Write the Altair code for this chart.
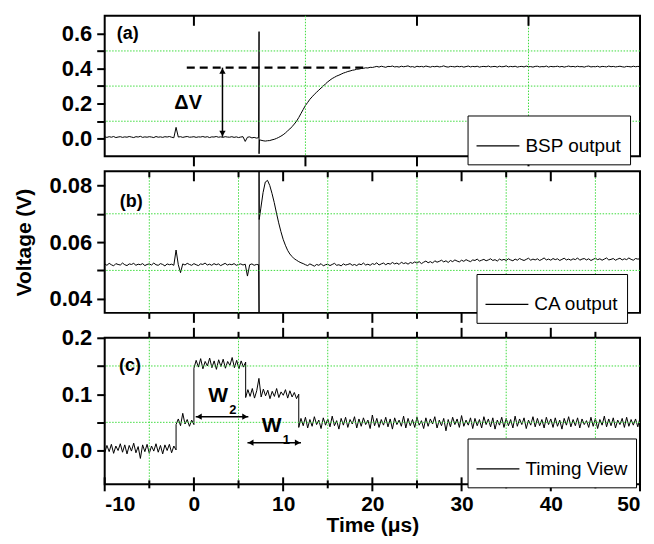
import altair as alt
import numpy as np
import pandas as pd

FONT = "Liberation Sans"

# ---------------- data: (a) BSP output ----------------
a_base_t = (-10.0, 7.25)
a_base_v = [0.011, 0.008, 0.012, 0.009, 0.013, 0.007, 0.010, 0.012, 0.008, 0.011,
            0.009, 0.013, 0.010, 0.007, 0.012, 0.010, 0.014, 0.008, 0.011, 0.009,
            0.012, 0.010, 0.007, 0.013, 0.009, 0.011, 0.008, 0.012, 0.010, 0.013,
            0.009, 0.006, 0.065, 0.010, 0.012, 0.008, 0.011, 0.013, 0.009, 0.010,
            0.012, 0.008, 0.011, 0.010, 0.013, 0.009, 0.012, 0.007, 0.011, 0.010,
            0.013, 0.009, 0.011, 0.008, 0.012, 0.010, 0.009, 0.012, 0.008, 0.011,
            0.007, 0.010, 0.012, -0.015, 0.009, 0.011, 0.005, 0.008, 0.004, 0.006]
a_spike_t = [7.3, 7.3, 7.35]
a_spike_v = [0.61, -0.085, -0.006]
a_rise_t = (7.5, 20.0)
a_rise_v = [-0.008, -0.011, -0.013, -0.011, -0.010, -0.006, -0.003, 0.002, 0.008, 0.015,
            0.023, 0.033, 0.045, 0.056, 0.069, 0.084, 0.100, 0.121, 0.144, 0.167,
            0.190, 0.207, 0.225, 0.239, 0.253, 0.265, 0.277, 0.289, 0.300, 0.313,
            0.324, 0.334, 0.343, 0.350, 0.357, 0.362, 0.368, 0.374, 0.378, 0.383,
            0.386, 0.390, 0.392, 0.396, 0.397, 0.400, 0.401, 0.404, 0.403, 0.407,
            0.406]
a_plat_t = (20.25, 50.0)
a_plat_v = [0.409, 0.412, 0.408, 0.413, 0.410, 0.407, 0.412, 0.411, 0.414, 0.409,
            0.411, 0.408, 0.413, 0.410, 0.412, 0.415, 0.409, 0.411, 0.407, 0.413,
            0.410, 0.412, 0.409, 0.414, 0.411, 0.408, 0.412, 0.410, 0.413, 0.409,
            0.411, 0.415, 0.410, 0.408, 0.412, 0.411, 0.409, 0.413, 0.410, 0.412,
            0.408, 0.411, 0.414, 0.409, 0.412, 0.410, 0.413, 0.408, 0.411, 0.412,
            0.410, 0.414, 0.409, 0.411, 0.412, 0.408, 0.413, 0.410, 0.411, 0.415,
            0.409, 0.412, 0.410, 0.413, 0.408, 0.411, 0.412, 0.409, 0.414, 0.410,
            0.411, 0.408, 0.412, 0.413, 0.409, 0.411, 0.410, 0.414, 0.408, 0.412,
            0.410, 0.411, 0.413, 0.409, 0.412, 0.408, 0.411, 0.414, 0.410, 0.412,
            0.409, 0.413, 0.410, 0.411, 0.408, 0.412, 0.414, 0.409, 0.411, 0.410,
            0.413, 0.408, 0.412, 0.411, 0.409, 0.414, 0.410, 0.412, 0.409, 0.411,
            0.413, 0.410, 0.408, 0.412, 0.411, 0.409, 0.413, 0.410, 0.412, 0.411]

# ---------------- data: (b) CA output ----------------
b_base_t = (-10.0, 7.25)
b_base_v = [0.0523, 0.0518, 0.0525, 0.0520, 0.0516, 0.0524, 0.0521, 0.0519, 0.0526, 0.0520,
            0.0517, 0.0523, 0.0521, 0.0525, 0.0518, 0.0522, 0.0520, 0.0524, 0.0517, 0.0521,
            0.0523, 0.0519, 0.0526, 0.0520, 0.0518, 0.0524, 0.0521, 0.0516, 0.0523, 0.0520,
            0.0522, 0.0518, 0.0572, 0.0520, 0.0492, 0.0523, 0.0519, 0.0525, 0.0521, 0.0518,
            0.0524, 0.0520, 0.0517, 0.0523, 0.0521, 0.0526, 0.0519, 0.0522, 0.0518, 0.0524,
            0.0520, 0.0523, 0.0517, 0.0521, 0.0525, 0.0519, 0.0522, 0.0520, 0.0524, 0.0518,
            0.0521, 0.0523, 0.0519, 0.0522, 0.0480, 0.0520, 0.0523, 0.0518, 0.0521, 0.0520]
b_spike_t = [7.3, 7.3, 7.32]
b_spike_v = [0.035, 0.085, 0.068]
b_pulse_t = (7.5, 12.25)
b_pulse_v = [0.0720, 0.0775, 0.0812, 0.0818, 0.0800, 0.0772, 0.0740, 0.0703, 0.0668, 0.0637,
             0.0610, 0.0589, 0.0571, 0.0558, 0.0549, 0.0541, 0.0536, 0.0531, 0.0527, 0.0524]
b_tail_t = (12.5, 50.0)
b_tail_v = [0.0520, 0.0517, 0.0523, 0.0519, 0.0515, 0.0521, 0.0518, 0.0524, 0.0516, 0.0520,
            0.0522, 0.0517, 0.0521, 0.0525, 0.0518, 0.0520, 0.0516, 0.0523, 0.0519, 0.0521,
            0.0524, 0.0518, 0.0521, 0.0517, 0.0523, 0.0520, 0.0526, 0.0519, 0.0522, 0.0518,
            0.0524, 0.0521, 0.0527, 0.0519, 0.0523, 0.0526, 0.0520, 0.0525, 0.0522, 0.0528,
            0.0523, 0.0526, 0.0521, 0.0529, 0.0524, 0.0527, 0.0522, 0.0528, 0.0525, 0.0530,
            0.0526, 0.0531, 0.0524, 0.0529, 0.0533, 0.0527, 0.0531, 0.0526, 0.0534, 0.0529,
            0.0532, 0.0536, 0.0530, 0.0534, 0.0528, 0.0535, 0.0531, 0.0537, 0.0533, 0.0530,
            0.0536, 0.0532, 0.0538, 0.0534, 0.0531, 0.0537, 0.0535, 0.0540, 0.0533, 0.0536,
            0.0539, 0.0534, 0.0537, 0.0541, 0.0535, 0.0538, 0.0533, 0.0540, 0.0536, 0.0539,
            0.0535, 0.0541, 0.0537, 0.0534, 0.0540, 0.0536, 0.0542, 0.0538, 0.0535, 0.0539,
            0.0543, 0.0536, 0.0540, 0.0537, 0.0541, 0.0535, 0.0539, 0.0544, 0.0537, 0.0540,
            0.0536, 0.0542, 0.0538, 0.0541, 0.0535, 0.0539, 0.0543, 0.0537, 0.0540, 0.0536,
            0.0541, 0.0538, 0.0544, 0.0536, 0.0540, 0.0542, 0.0537, 0.0541, 0.0535, 0.0539,
            0.0543, 0.0538, 0.0541, 0.0536, 0.0540, 0.0544, 0.0537, 0.0539, 0.0542, 0.0536,
            0.0540, 0.0543, 0.0537, 0.0541, 0.0538, 0.0544, 0.0539, 0.0536, 0.0542, 0.0540,
            0.0541]

# ---------------- data: (c) Timing View ----------------
c_s1_t = (-10.0, -2.0)
c_s1_v = [-0.004, 0.009, -0.002, 0.011, -0.005, 0.008, 0.000, 0.012, -0.003, 0.010,
          -0.006, 0.009, -0.001, 0.013, -0.004, 0.007, -0.014, 0.010, -0.002, 0.011,
          -0.005, 0.008, -0.001, 0.012, -0.003, 0.009, -0.006, 0.010, 0.000, 0.011,
          -0.004, 0.008, 0.001]
c_s2_t = (-2.0, 0.0)
c_s2_v = [0.046, 0.056, 0.044, 0.066, 0.047, 0.055, 0.043, 0.054, 0.046]
c_s3_t = (0.0, 5.8)
c_s3_v = [0.146, 0.160, 0.148, 0.163, 0.145, 0.158, 0.150, 0.164, 0.147, 0.159,
          0.144, 0.161, 0.149, 0.162, 0.146, 0.158, 0.151, 0.165, 0.147, 0.160,
          0.145, 0.159, 0.148, 0.157]
c_s4_t = (5.8, 11.75)
c_s4_v = [0.094, 0.108, 0.096, 0.110, 0.093, 0.106, 0.128, 0.095, 0.109, 0.097,
          0.107, 0.092, 0.105, 0.096, 0.110, 0.094, 0.104, 0.098, 0.108, 0.093,
          0.106, 0.095, 0.103, 0.092, 0.100]
c_s5_t = (11.75, 50.0)
c_s5_v = [0.041, 0.057, 0.044, 0.059, 0.040, 0.055, 0.043, 0.060, 0.046, 0.054,
          0.039, 0.058, 0.045, 0.056, 0.042, 0.061, 0.044, 0.053, 0.038, 0.057,
          0.045, 0.059, 0.041, 0.055, 0.047, 0.060, 0.040, 0.056, 0.043, 0.058,
          0.046, 0.054, 0.039, 0.063, 0.044, 0.057, 0.041, 0.055, 0.045, 0.059,
          0.042, 0.056, 0.038, 0.058, 0.046, 0.054, 0.043, 0.061, 0.040, 0.057,
          0.044, 0.055, 0.041, 0.059, 0.045, 0.053, 0.039, 0.058, 0.043, 0.056,
          0.047, 0.060, 0.040, 0.054, 0.044, 0.057, 0.035, 0.055, 0.042, 0.059,
          0.046, 0.056, 0.041, 0.062, 0.043, 0.054, 0.045, 0.058, 0.039, 0.057,
          0.044, 0.055, 0.040, 0.060, 0.046, 0.056, 0.042, 0.058, 0.038, 0.054,
          0.045, 0.059, 0.041, 0.057, 0.044, 0.055, 0.040, 0.061, 0.043, 0.056,
          0.046, 0.058, 0.039, 0.054, 0.045, 0.060, 0.042, 0.057, 0.044, 0.055,
          0.040, 0.059, 0.046, 0.056, 0.041, 0.058, 0.043, 0.054, 0.038, 0.057,
          0.045, 0.060, 0.042, 0.055, 0.044, 0.058, 0.040, 0.056, 0.046, 0.053,
          0.041, 0.059, 0.043, 0.057, 0.039, 0.055, 0.045, 0.061, 0.042, 0.056,
          0.044, 0.058, 0.040, 0.054, 0.046, 0.057, 0.041, 0.059, 0.043, 0.055,
          0.045, 0.056, 0.042, 0.058]

# axis / grid / tick positions
x_domain = [-10, 50]
x_labels = [-10, 0, 10, 20, 30, 40, 50]
a_ydom = [-0.1, 0.7]
a_yticks = [0.0, 0.1, 0.2, 0.3, 0.4, 0.5, 0.6]
a_grid_x = [12.5, 37.5]
a_grid_y = [0.1, 0.3, 0.5]
a_top_ticks = [0, 25, 37.5]
a_bot_ticks = [0, 12.5, 25, 37.5]
b_ydom = [0.035, 0.085]
b_yticks = [0.04, 0.05, 0.06, 0.07, 0.08]
b_grid_y = [0.05, 0.07]
c_ydom = [-0.06, 0.2]
c_yticks = [0.0, 0.05, 0.1, 0.15, 0.2]
c_grid_y = [0.05, 0.15]
major_x = [0, 10, 20, 30, 40]
minor_x = [-5, 5, 15, 25, 35, 45]

# annotations
dash_x = [-0.8, 19.4]
dash_y = 0.405
dv_arrow_x = 3.2
dv_arrow_y = [0.011, 0.405]
w2_arrow_x = [0.2, 6.1]
w2_arrow_y = 0.060
w1_arrow_x = [6.0, 12.0]
w1_arrow_y = 0.014

W = 537
HA, HB, HC = 141, 142, 147
GREEN = "#3fdc3f"


def seg(rng, vals):
    return list(np.linspace(rng[0], rng[1], len(vals)))


def trace_df(parts, name):
    t, v = [], []
    for tt, vv in parts:
        t += list(tt)
        v += list(vv)
    return pd.DataFrame({"t": t, "v": v, "i": range(len(t)), "series": name})


dfa = trace_df([(seg(a_base_t, a_base_v), a_base_v), (a_spike_t, a_spike_v),
                (seg(a_rise_t, a_rise_v), a_rise_v), (seg(a_plat_t, a_plat_v), a_plat_v)],
               "BSP output")
dfb = trace_df([(seg(b_base_t, b_base_v), b_base_v), (b_spike_t, b_spike_v),
                (seg(b_pulse_t, b_pulse_v), b_pulse_v), (seg(b_tail_t, b_tail_v), b_tail_v)],
               "CA output")
dfc = trace_df([(seg(c_s1_t, c_s1_v), c_s1_v), (seg(c_s2_t, c_s2_v), c_s2_v),
                (seg(c_s3_t, c_s3_v), c_s3_v), (seg(c_s4_t, c_s4_v), c_s4_v),
                (seg(c_s5_t, c_s5_v), c_s5_v)], "Timing View")


def xsc():
    return alt.Scale(domain=x_domain, nice=False, zero=False)


def ysc(d):
    return alt.Scale(domain=d, nice=False, zero=False)


def yaxis(vals, expr, title=None):
    kw = dict(values=vals, labelExpr=expr, tickSize=8, tickWidth=2, tickColor="black",
              labelPadding=5, labelFont=FONT, labelFontSize=22, labelFontWeight="bold",
              labelColor="black", domain=False, grid=False)
    if title:
        kw.update(title=title, titleFont=FONT, titleFontSize=21, titleFontWeight="bold",
                  titleColor="black", titlePadding=15)
    else:
        kw.update(title=None)
    return alt.Axis(**kw)


class Panel:
    """Shared scales/axes of one panel, so every layer carries the same axis spec."""

    def __init__(self, ydom, yax, xax):
        self.ydom = ydom
        self.yax = yax
        self.xax = xax

    def X(self, f):
        return alt.X(f, scale=xsc(), axis=self.xax)

    def Y(self, f):
        return alt.Y(f, scale=ysc(self.ydom), axis=self.yax)

    def vgrid(self, xs):
        return alt.Chart(pd.DataFrame({"t": xs})).mark_rule(
            color=GREEN, strokeWidth=1, strokeDash=[1.5, 1.5]).encode(x=self.X("t:Q"))

    def hgrid(self, ys):
        return alt.Chart(pd.DataFrame({"v": ys})).mark_rule(
            color=GREEN, strokeWidth=1, strokeDash=[1.5, 1.5]).encode(y=self.Y("v:Q"))

    def ticks(self, xs, y0, y1):
        return alt.Chart(pd.DataFrame({"t": xs})).mark_rule(
            color="black", strokeWidth=2).encode(
            x=self.X("t:Q"), y=alt.value(y0), y2=alt.value(y1))

    def trace(self, df, lx, ly):
        lg = alt.Legend(orient="none", legendX=lx, legendY=ly, title=None,
                        strokeColor="black", fillColor="white", padding=8,
                        symbolType="stroke", symbolSize=1850, symbolStrokeWidth=1.2,
                        labelFont=FONT, labelFontSize=19, labelColor="black",
                        labelOffset=5)
        return alt.Chart(df).mark_line(strokeWidth=1, clip=True).encode(
            x=self.X("t:Q"), y=self.Y("v:Q"), order="i:Q",
            color=alt.Color("series:N", scale=alt.Scale(range=["black"]), legend=lg))

    def label(self, txt, x, y, size=18, align="left"):
        return alt.Chart(pd.DataFrame({"t": [x], "v": [y], "s": [txt]})).mark_text(
            font=FONT, fontSize=size, fontWeight="bold", align=align, baseline="middle",
            color="black").encode(x=self.X("t:Q"), y=self.Y("v:Q"), text="s:N")

    def head(self, x, y, shape):
        return alt.Chart(pd.DataFrame({"t": [x], "v": [y]})).mark_point(
            shape=shape, filled=True, size=40, color="black", opacity=1).encode(
            x=self.X("t:Q"), y=self.Y("v:Q"))

    def hline(self, xs, y, width=1.5, dash=None):
        kw = dict(color="black", strokeWidth=width)
        if dash:
            kw["strokeDash"] = dash
        return alt.Chart(pd.DataFrame({"t": [xs[0]], "t2": [xs[1]], "v": [y]})).mark_rule(**kw).encode(
            x=self.X("t:Q"), x2="t2:Q", y=self.Y("v:Q"))

    def vline(self, x, ys, width=1.5):
        return alt.Chart(pd.DataFrame({"t": [x], "v": [ys[0]], "v2": [ys[1]]})).mark_rule(
            color="black", strokeWidth=width).encode(
            x=self.X("t:Q"), y=self.Y("v:Q"), y2="v2:Q")


# ---------------- panel (a) ----------------
pa = Panel(a_ydom, yaxis(a_yticks, "round(datum.value*10) % 2 == 0 ? format(datum.value, '.1f') : ''"), None)
panel_a = alt.layer(
    pa.trace(dfa, 364, 100),
    pa.vgrid(a_grid_x), pa.hgrid(a_grid_y),
    pa.hline(dash_x, dash_y, width=2.2, dash=[8, 5]),
    pa.vline(dv_arrow_x, dv_arrow_y),
    pa.head(dv_arrow_x, dv_arrow_y[1] - 0.019, "triangle-up"),
    pa.head(dv_arrow_x, dv_arrow_y[0] + 0.019, "triangle-down"),
    pa.label("ΔV", -0.65, 0.205, size=20, align="center"),
    pa.label("(a)", -8.65, 0.595),
    pa.ticks(a_top_ticks, 0, 10), pa.ticks(a_bot_ticks, HA, HA + 10),
).properties(width=W, height=HA)

# ---------------- panel (b) ----------------
pb = Panel(b_ydom, yaxis(b_yticks, "round(datum.value*100) % 2 == 0 ? format(datum.value, '.2f') : ''",
                         title="Voltage (V)"), None)
panel_b = alt.layer(
    pb.trace(dfb, 373, 103),
    pb.vgrid(minor_x), pb.hgrid(b_grid_y),
    pb.label("(b)", -8.3, 0.0743),
    pb.ticks(major_x, 0, 10), pb.ticks(minor_x, 0, 6),
    pb.ticks(major_x, HB, HB + 10), pb.ticks(minor_x, HB, HB + 6),
).properties(width=W, height=HB)

# ---------------- panel (c) ----------------
xaxis_c = alt.Axis(values=x_labels, labelExpr="'' + datum.value", ticks=False, domain=False,
                   grid=False, labelPadding=9, labelFont=FONT, labelFontSize=21,
                   labelFontWeight="bold", labelColor="black", title="Time (μs)",
                   titleFont=FONT, titleFontSize=21, titleFontWeight="bold",
                   titleColor="black", titlePadding=0)
pc = Panel(c_ydom, yaxis(c_yticks, "round(datum.value*100) % 10 == 0 ? format(datum.value, '.1f') : ''"), xaxis_c)
panel_c = alt.layer(
    pc.trace(dfc, 364, 101),
    pc.vgrid(minor_x), pc.hgrid(c_grid_y),
    pc.hline(w2_arrow_x, w2_arrow_y),
    pc.head(w2_arrow_x[0] + 0.375, w2_arrow_y, "triangle-left"),
    pc.head(w2_arrow_x[1] - 0.375, w2_arrow_y, "triangle-right"),
    pc.hline(w1_arrow_x, w1_arrow_y),
    pc.head(w1_arrow_x[0] + 0.375, w1_arrow_y, "triangle-left"),
    pc.head(w1_arrow_x[1] - 0.375, w1_arrow_y, "triangle-right"),
    pc.label("W", 2.7, 0.097, size=21, align="center"),
    pc.label("2", 3.95, 0.071, size=13),
    pc.label("W", 8.7, 0.043, size=21, align="center"),
    pc.label("1", 9.95, 0.018, size=13),
    pc.label("(c)", -8.4, 0.15),
    pc.ticks(major_x, -10, 0), pc.ticks(minor_x, -6, 0),
    pc.ticks(x_labels, HC - 7, HC + 7), pc.ticks(minor_x, HC - 4, HC + 4),
).properties(width=W, height=HC)

chart = alt.vconcat(panel_a, panel_b, panel_c, spacing=1).resolve_scale(
    x="independent", y="independent", color="independent"
).resolve_legend(color="independent").properties(
    padding={"left": 4, "top": 5, "right": 4, "bottom": 0}
).configure(font=FONT, background="white").configure_view(stroke="black", strokeWidth=2)

chart.save("out.html", embed_options={"renderer": "svg", "actions": False})
